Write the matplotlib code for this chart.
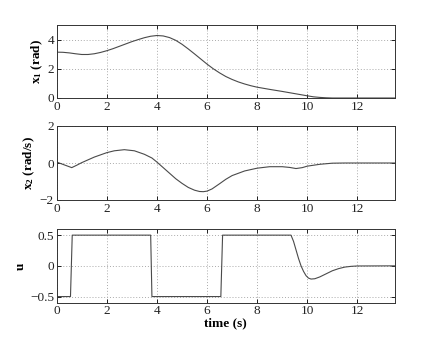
import matplotlib
matplotlib.use('Agg')
import matplotlib.pyplot as plt
import numpy as np

# state x1 (rad)
t_x1 = [0, 0.25, 0.5, 0.75, 1, 1.25, 1.5, 1.75, 2, 2.25, 2.5, 2.75, 3, 3.25, 3.5, 3.75, 4, 4.25, 4.5, 4.75, 5, 5.25, 5.5, 5.75,
        6, 6.25, 6.5, 6.75, 7, 7.25, 7.5, 7.75, 8, 8.5, 9, 9.5, 10, 10.25, 10.5, 10.75, 11, 12, 13.5]
x1 = [3.14, 3.13, 3.09, 3.03, 2.98, 2.98, 3.03, 3.12, 3.24, 3.38, 3.54, 3.7, 3.86, 4.0, 4.13, 4.23, 4.28, 4.25, 4.14, 3.95, 3.68, 3.36, 3.02, 2.67,
      2.32, 2.0, 1.72, 1.47, 1.27, 1.1, 0.96, 0.84, 0.74, 0.59, 0.45, 0.3, 0.15, 0.08, 0.04, 0.015, 0.0, 0.0, 0.0]

# state x2 (rad/s)
t_x2 = [0, 0.3, 0.6, 0.8, 1, 1.5, 2, 2.3, 2.7, 3.1, 3.5, 3.8, 4, 4.25, 4.5, 4.75, 5, 5.25, 5.5, 5.7, 5.85, 6.0, 6.2, 6.5, 6.75,
        7, 7.5, 8, 8.5, 9, 9.3, 9.55, 9.8, 10, 10.5, 11, 11.5, 13.5]
x2 = [0.05, -0.1, -0.25, -0.12, 0.02, 0.32, 0.56, 0.66, 0.72, 0.66, 0.47, 0.27, 0.05, -0.25, -0.55, -0.85, -1.1, -1.32, -1.47, -1.54, -1.55, -1.52, -1.4, -1.12, -0.88,
      -0.68, -0.43, -0.28, -0.2, -0.2, -0.24, -0.3, -0.25, -0.17, -0.07, -0.01, 0.0, 0.0]

# control u
t_u = [0, 0.55, 0.62, 3.75, 3.8, 6.55, 6.62, 9.35, 9.45, 9.55, 9.65, 9.75, 9.85, 9.95, 10.05, 10.15, 10.3, 10.5, 10.75, 11, 11.25, 11.5, 11.75, 12, 13.5]
u = [-0.5, -0.5, 0.5, 0.5, -0.5, -0.5, 0.5, 0.5, 0.4, 0.26, 0.12, 0.0, -0.09, -0.16, -0.2, -0.215, -0.21, -0.18, -0.13, -0.08, -0.045, -0.02, -0.008, -0.002, 0.0]

plt.rcParams['font.family'] = ['Liberation Serif', 'DejaVu Serif']
plt.rcParams['font.size'] = 9.5
plt.rcParams['mathtext.fontset'] = 'custom'
plt.rcParams['mathtext.rm'] = 'Liberation Serif:bold'
plt.rcParams['mathtext.it'] = 'Liberation Serif:bold'
plt.rcParams['mathtext.bf'] = 'Liberation Serif:bold'

fig = plt.figure(figsize=(4.36, 3.41), dpi=100)
W, H = 436, 341
boxes = [(25, 98), (126, 200), (229, 302.7)]
left, right = 56.7, 395

data = [(t_x1, x1, (0, 5), [0, 2, 4], ['0', '2', '4'], r'x$_1$ (rad)'),
        (t_x2, x2, (-2, 2), [-2, 0, 2], ['\u22122', '0', '2'], r'x$_2$ (rad/s)'),
        (t_u, u, (-0.6, 0.6), [-0.5, 0, 0.5], ['\u22120.5', '0', '0.5'], 'u')]

axes = []
for (top, bot), (t, y, ylim, yt, ytl, lab) in zip(boxes, data):
    ax = fig.add_axes([left / W, 1 - bot / H, (right - left) / W, (bot - top) / H])
    ax.plot(t, y, color='#4a4a4a', linewidth=0.8)
    ax.set_xlim(0, 13.5)
    ax.set_ylim(*ylim)
    ax.set_xticks([0, 2, 4, 6, 8, 10, 12])
    ax.set_yticks(yt)
    ax.set_yticklabels(ytl)
    ax.grid(True, linestyle=(0, (1, 2)), color='#aaaaaa', linewidth=0.7)
    ax.tick_params(direction='in', length=3, width=0.6, top=True, right=True, pad=2,
                   labelcolor='#222222')
    for s in ax.spines.values():
        s.set_linewidth(0.7)
        s.set_color('#333333')
    ax.set_ylabel(lab, fontweight='bold', labelpad=2)
    axes.append(ax)

axes[2].set_xlabel('time (s)', fontweight='bold', labelpad=0)

fig.savefig('out.png', dpi=100)
